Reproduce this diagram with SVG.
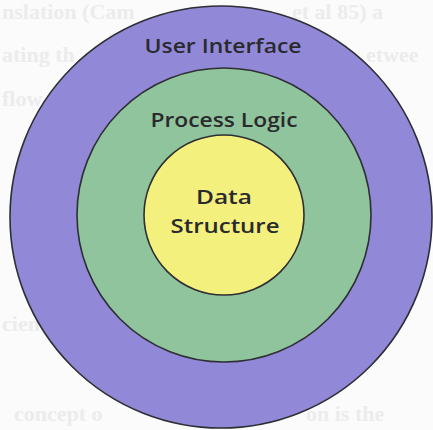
<svg xmlns="http://www.w3.org/2000/svg" width="433" height="430" viewBox="0 0 433 430">
  <style>
    .page { font-family: "Liberation Serif", "DejaVu Serif", serif; font-size: 22px; font-weight: bold; fill: #ececec; }
    .ring { stroke: #2e2e35; stroke-width: 1.6; }
    .label { font-family: "Open Sans", "DejaVu Sans", sans-serif; font-size: 20px; font-weight: 600; fill: #2a2a2e; text-anchor: middle; }
  </style>
  <rect width="433" height="430" fill="#fbfbfb"/>

  <!-- faint show-through of the printed page, only the parts left uncovered -->
  <g id="page-text" class="page">
    <text x="2" y="19">nslation (Cam</text>
    <text x="292" y="19">et al 85) a</text>
    <text x="2" y="62">ating th</text>
    <text x="366" y="62">etwee</text>
    <text x="2" y="106">flow</text>
    <text x="2" y="331">ciency</text>
    <text x="14" y="421">concept o</text>
    <text x="306" y="421">on is the</text>
  </g>

  <!-- concentric layers -->
  <g id="user-interface">
    <circle class="ring" cx="221" cy="217" r="211" fill="#9189d7"/>
    <text class="label" x="223" y="53" textLength="157" lengthAdjust="spacingAndGlyphs">User Interface</text>
  </g>
  <g id="process-logic">
    <circle class="ring" cx="224" cy="215" r="147" fill="#90c49c"/>
    <text class="label" x="224" y="127" textLength="147" lengthAdjust="spacingAndGlyphs">Process Logic</text>
  </g>
  <g id="data-structure">
    <circle class="ring" cx="224" cy="215" r="80" fill="#f4f07d"/>
    <text class="label" x="224" y="204" textLength="56" lengthAdjust="spacingAndGlyphs">Data</text>
    <text class="label" x="225" y="233" textLength="109" lengthAdjust="spacingAndGlyphs">Structure</text>
  </g>

  <g id="connectors"/>
</svg>
